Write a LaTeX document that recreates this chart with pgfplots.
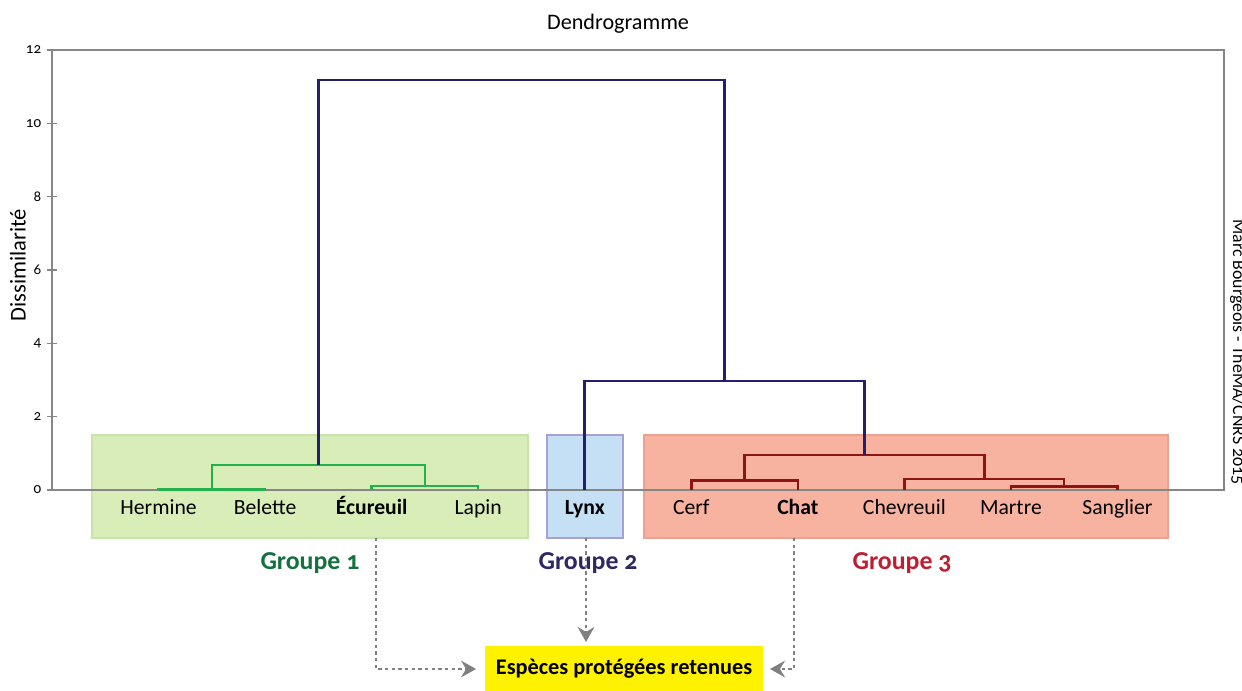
\documentclass[border=0pt]{standalone}
\usepackage{fontspec}
\setmainfont{Carlito}[Numbers=OldStyle]
\usepackage{pgfplots}
\pgfplotsset{compat=1.18}
\usetikzlibrary{arrows.meta}
\definecolor{framegray}{RGB}{134,134,134}
\definecolor{lgreen}{RGB}{34,177,76}
\definecolor{ldred}{RGB}{140,20,20}
\definecolor{lnavy}{RGB}{35,31,110}
\definecolor{boxg}{RGB}{216,237,184}
\definecolor{boxgb}{RGB}{200,228,170}
\definecolor{boxb}{RGB}{197,224,245}
\definecolor{boxbb}{RGB}{168,160,210}
\definecolor{boxr}{RGB}{247,178,160}
\definecolor{boxrb}{RGB}{235,162,145}
\definecolor{tg1}{RGB}{20,112,62}
\definecolor{tg2}{RGB}{45,40,100}
\definecolor{tg3}{RGB}{190,30,50}
\definecolor{yel}{RGB}{255,242,0}
\definecolor{arrgray}{RGB}{128,128,128}
\begin{document}
\begin{tikzpicture}
\begin{axis}[
  at={(0,0)}, anchor=south west, scale only axis,
  width=703.2pt, height=264pt,
  xmin=0, xmax=11, ymin=0, ymax=12,
  clip=false, set layers,
  axis line style={draw=framegray, line width=0.8pt},
  xtick={1,...,10},
  xticklabels={Hermine,Belette,\textbf{Écureuil},Lapin,\textbf{Lynx},Cerf,\textbf{Chat},Chevreuil,Martre,Sanglier},
  x tick style={draw=none},
  xticklabel style={font=\fontsize{13}{15}\selectfont, anchor=base, yshift=-12pt},
  ytick={0,2,...,12}, ytick pos=left, tick align=center, major tick length=6pt,
  y tick style={draw=framegray, line width=0.8pt},
  yticklabel style={font=\fontsize{9}{10}\selectfont},
  /pgf/number format/assume math mode=true,
  ylabel={Dissimilarité},
  ylabel style={at={(-0.029,0.511)}, anchor=center, font=\fontsize{13.5}{15}\selectfont},
  title={Dendrogramme},
  title style={at={(0.483,1.036)}, anchor=center, font=\fontsize{13.3}{15}\selectfont},
]
\begin{pgfonlayer}{axis background}
\filldraw[fill=boxg, draw=boxgb, line width=1pt] (axis cs:0.375,1.5) rectangle (axis cs:4.468,-1.309);
\filldraw[fill=boxb, draw=boxbb, line width=1pt] (axis cs:4.646,1.5) rectangle (axis cs:5.359,-1.309);
\filldraw[fill=boxr, draw=boxrb, line width=1pt] (axis cs:5.556,1.5) rectangle (axis cs:10.474,-1.309);
\end{pgfonlayer}
% Group 1 links
\addplot[lgreen, line width=1.5pt, mark=none] coordinates {(1,0) (1,0.02) (2,0.02) (2,0)};
\addplot[lgreen, line width=1.5pt, mark=none] coordinates {(3,0) (3,0.11) (4,0.11) (4,0)};
\addplot[lgreen, line width=1.5pt, mark=none] coordinates {(1.5,0.02) (1.5,0.68) (3.5,0.68) (3.5,0.11)};
% Group 3 links
\addplot[ldred, line width=1.5pt, mark=none] coordinates {(6,0) (6,0.26) (7,0.26) (7,0)};
\addplot[ldred, line width=1.5pt, mark=none] coordinates {(9,0) (9,0.09) (10,0.09) (10,0)};
\addplot[ldred, line width=1.5pt, mark=none] coordinates {(8,0) (8,0.30) (9.5,0.30) (9.5,0.09)};
\addplot[ldred, line width=1.5pt, mark=none] coordinates {(6.5,0.26) (6.5,0.96) (8.75,0.96) (8.75,0.30)};
% Upper links
\addplot[lnavy, line width=1.5pt, mark=none] coordinates {(5,0) (5,2.97) (7.625,2.97) (7.625,0.96)};
\addplot[lnavy, line width=1.5pt, mark=none] coordinates {(2.5,0.68) (2.5,11.18) (6.3125,11.18) (6.3125,2.97)};
% group labels
\node[font=\bfseries\fontsize{15.5}{17}\selectfont, text=tg1] at (axis cs:2.421,-1.991) {Groupe 1};
\node[font=\bfseries\fontsize{15.5}{17}\selectfont, text=tg2] at (axis cs:5.031,-1.991) {Groupe 2};
\node[font=\bfseries\fontsize{15.5}{17}\selectfont, text=tg3] at (axis cs:7.978,-1.991) {Groupe 3};
% arrows
\draw[arrgray, line width=1.2pt, dash pattern=on 2pt off 2pt, -{Stealth[length=9pt,width=10pt,inset=3pt]}]
  (axis cs:3.041,-1.309) -- (axis cs:3.041,-4.882) -- (axis cs:3.98,-4.882);
\draw[arrgray, line width=1.2pt, dash pattern=on 2pt off 2pt, -{Stealth[length=9pt,width=10pt,inset=3pt]}]
  (axis cs:5.012,-1.309) -- (axis cs:5.012,-4.145);
\draw[arrgray, line width=1.2pt, dash pattern=on 2pt off 2pt, -{Stealth[length=9pt,width=10pt,inset=3pt]}]
  (axis cs:6.964,-1.309) -- (axis cs:6.964,-4.882) -- (axis cs:6.739,-4.882);
\node[fill=yel, minimum width=166.8pt, minimum height=28.2pt, inner sep=0pt,
      font=\bfseries\fontsize{13.4}{15}\selectfont] at (axis cs:5.369,-4.882) {Espèces protégées retenues};
\node[rotate=-90, anchor=base, font=\fontsize{10.7}{12}\selectfont] at (axis cs:11.085,3.764) {Marc Bourgeois - ThéMA/CNRS 2015};
\end{axis}
\pgfresetboundingbox
\path[use as bounding box] (-31.2pt,-120.6pt) rectangle (714pt,294pt);
\end{tikzpicture}
\end{document}
